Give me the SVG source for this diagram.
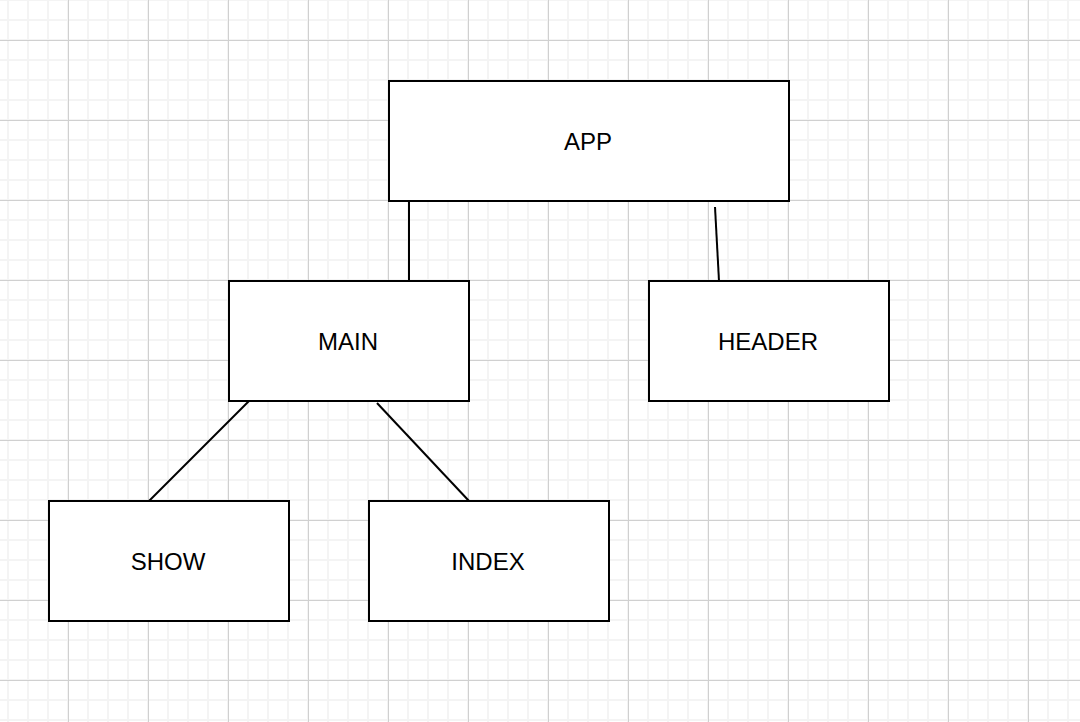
<svg xmlns="http://www.w3.org/2000/svg" width="1080" height="722" viewBox="0 0 1080 722">
  <style>
    .node rect { fill: #ffffff; stroke: #000000; stroke-width: 2; }
    .node text { font-family: "Liberation Sans", Arial, Helvetica, sans-serif; font-size: 24px; fill: #000000; text-anchor: middle; }
    #connectors line { stroke: #000000; stroke-width: 2; fill: none; }
  </style>
  <defs>
    <pattern id="minor" patternUnits="userSpaceOnUse" x="0" y="-1" width="20" height="20">
      <rect x="7" y="0" width="2" height="20" fill="#f4f4f4"/>
      <rect x="0" y="0" width="20" height="2" fill="#f4f4f4"/>
    </pattern>
    <pattern id="major" patternUnits="userSpaceOnUse" x="0" y="0" width="80" height="80">
      <rect x="68" y="0" width="1" height="80" fill="#d0d0d0"/>
      <rect x="0" y="40" width="80" height="1" fill="#d0d0d0"/>
    </pattern>
  </defs>
  <g id="background">
    <rect x="0" y="0" width="1080" height="722" fill="#ffffff"/>
    <rect x="0" y="0" width="1080" height="722" fill="url(#minor)"/>
    <rect x="0" y="0" width="1080" height="722" fill="url(#major)"/>
  </g>
  <g id="connectors">
    <line x1="409" y1="201" x2="409" y2="281"/>
    <line x1="715" y1="207" x2="719" y2="281"/>
    <line x1="249" y1="401" x2="149" y2="501"/>
    <line x1="377" y1="403" x2="469" y2="501"/>
  </g>
  <g id="node-app" class="node">
    <rect x="389" y="81" width="400" height="120"/>
    <text x="588" y="149.5">APP</text>
  </g>
  <g id="node-main" class="node">
    <rect x="229" y="281" width="240" height="120"/>
    <text x="348" y="349.5">MAIN</text>
  </g>
  <g id="node-header" class="node">
    <rect x="649" y="281" width="240" height="120"/>
    <text x="768" y="349.5">HEADER</text>
  </g>
  <g id="node-show" class="node">
    <rect x="49" y="501" width="240" height="120"/>
    <text x="168" y="569.5">SHOW</text>
  </g>
  <g id="node-index" class="node">
    <rect x="369" y="501" width="240" height="120"/>
    <text x="488" y="569.5">INDEX</text>
  </g>
</svg>
